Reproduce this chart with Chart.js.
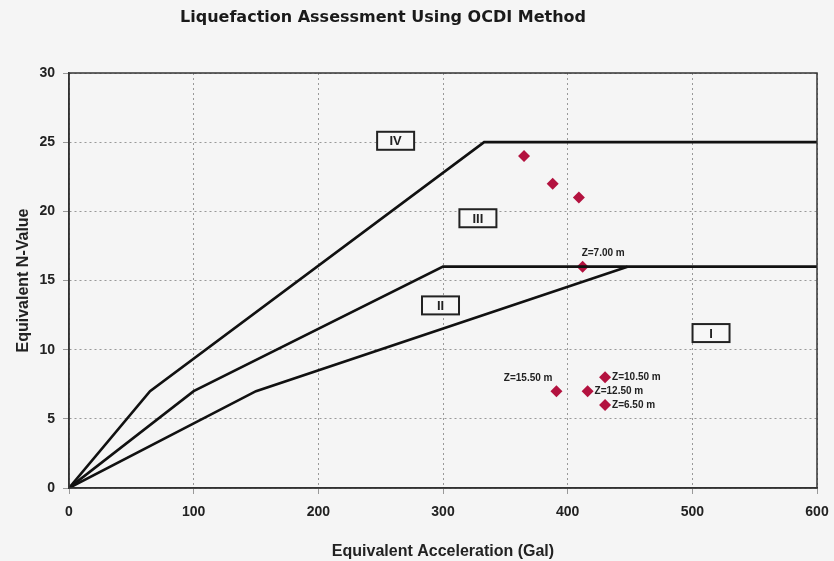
<!DOCTYPE html>
<html>
<head>
<meta charset="utf-8">
<script src="https://cdn.jsdelivr.net/npm/chart.js@4.4.0/dist/chart.umd.min.js"></script>
<style>
  html, body { margin: 0; padding: 0; background: #f5f5f5; }
  #wrap { width: 834px; height: 561px; position: relative; }
</style>
</head>
<body>
<div id="wrap"><canvas id="c" width="834" height="561"></canvas></div>
<script>
// ---- Data ----
const chartTitle = "Liquefaction Assessment Using OCDI Method";
const xAxisTitle = "Equivalent Acceleration (Gal)";
const yAxisTitle = "Equivalent N-Value";

// Zone boundary lines (acceleration, N-value)
const lineIV_x = [0, 65, 333, 600];
const lineIV_y = [0, 7, 25, 25];
const lineIII_x = [0, 100, 300, 600];
const lineIII_y = [0, 7, 16, 16];
const lineII_x = [0, 150, 448];
const lineII_y = [0, 7, 16];

// Measured points
const pointAcc = [365, 388, 409, 412, 391, 430, 416, 430];
const pointN   = [24, 22, 21, 16, 7, 8, 7, 6];
const pointLabels = ["", "", "", "Z=7.00 m", "Z=15.50 m", "Z=10.50 m", "Z=12.50 m", "Z=6.50 m"];
const pointLabelSide = ["", "", "", "above", "aboveLeft", "right", "right", "right"];

// Zone labels
const zoneNames = ["IV", "III", "II", "I"];
const zoneAcc = [262, 328, 298, 515];
const zoneN = [25.1, 19.5, 13.2, 11.2];

// Axis ticks
const xMin = 0, xMax = 600, xStep = 100;
const yMin = 0, yMax = 30, yStep = 5;

const toXY = (xs, ys) => xs.map((x, i) => ({ x: x, y: ys[i] }));

const lineStyle = {
  type: 'line', showLine: true, borderColor: '#111', borderWidth: 2.6,
  pointRadius: 0, fill: false, tension: 0
};

const overlay = {
  id: 'overlay',
  beforeDraw(chart) {
    const ctx = chart.ctx;
    ctx.save();
    ctx.fillStyle = '#f5f5f5';
    ctx.fillRect(0, 0, chart.width, chart.height);
    ctx.restore();
  },
  afterDatasetsDraw(chart) {
    const ctx = chart.ctx;
    const xs = chart.scales.x, ys = chart.scales.y;
    ctx.save();
    // zone boxes
    ctx.font = 'bold 13px "Liberation Sans", Arial, sans-serif';
    ctx.textAlign = 'center';
    ctx.textBaseline = 'middle';
    zoneNames.forEach((name, i) => {
      const cx = xs.getPixelForValue(zoneAcc[i]);
      const cy = ys.getPixelForValue(zoneN[i]);
      const w = 37, h = 18;
      ctx.fillStyle = '#f7f7f7';
      ctx.fillRect(cx - w / 2, cy - h / 2, w, h);
      ctx.lineWidth = 2;
      ctx.strokeStyle = '#222';
      ctx.strokeRect(cx - w / 2, cy - h / 2, w, h);
      ctx.fillStyle = '#222';
      ctx.fillText(name, cx, cy + 1);
    });
    // point labels
    ctx.font = 'bold 10px "Liberation Sans", Arial, sans-serif';
    ctx.fillStyle = '#222';
    ctx.textBaseline = 'middle';
    pointLabels.forEach((lab, i) => {
      if (!lab) return;
      const px = xs.getPixelForValue(pointAcc[i]);
      const py = ys.getPixelForValue(pointN[i]);
      const side = pointLabelSide[i];
      if (side === 'above') {
        ctx.textAlign = 'left';
        ctx.fillText(lab, px - 1, py - 13);
      } else if (side === 'aboveLeft') {
        ctx.textAlign = 'right';
        ctx.fillText(lab, px - 4, py - 13);
      } else {
        ctx.textAlign = 'left';
        ctx.fillText(lab, px + 7, py);
      }
    });
    ctx.restore();
  },
  afterDraw(chart) {
    const ctx = chart.ctx;
    ctx.save();
    ctx.font = 'bold 16px "DejaVu Sans", sans-serif';
    ctx.fillStyle = '#1a1a1a';
    ctx.textAlign = 'center';
    ctx.textBaseline = 'middle';
    ctx.fillText(chartTitle, 383, 18);
    ctx.restore();
  }
};

new Chart(document.getElementById('c'), {
  type: 'scatter',
  data: {
    datasets: [
      Object.assign({ label: 'IV/III', data: toXY(lineIV_x, lineIV_y) }, lineStyle),
      Object.assign({ label: 'III/II', data: toXY(lineIII_x, lineIII_y) }, lineStyle),
      Object.assign({ label: 'II/I', data: toXY(lineII_x, lineII_y) }, lineStyle),
      {
        type: 'scatter', label: 'Data', data: toXY(pointAcc, pointN),
        pointStyle: 'rectRot', pointRadius: 6, pointHoverRadius: 6,
        backgroundColor: '#b3123f', borderColor: '#b3123f', borderWidth: 0
      }
    ]
  },
  options: {
    responsive: false,
    animation: false,
    layout: { padding: { left: 0, right: 17, top: 73, bottom: 0 } },
    plugins: { legend: { display: false }, tooltip: { enabled: false }, title: { display: false } },
    scales: {
      x: {
        type: 'linear', min: xMin, max: xMax,
        ticks: { stepSize: xStep, color: '#222', padding: 10,
                 font: { family: '"Liberation Sans", Arial, sans-serif', size: 14, weight: 'bold' } },
        grid: { color: '#999', lineWidth: 1, tickLength: 6 },
        border: { display: true, color: '#333', width: 1.5, dash: [2, 3] },
        title: { display: true, text: xAxisTitle, color: '#222', padding: { top: 8, bottom: 0 },
                 font: { family: '"Liberation Sans", Arial, sans-serif', size: 16, weight: 'bold' } },
        afterFit(scale) { scale.height = 73; scale.paddingRight = 0; scale.paddingLeft = 0; }
      },
      y: {
        type: 'linear', min: yMin, max: yMax,
        ticks: { stepSize: yStep, color: '#222', padding: 8,
                 font: { family: '"Liberation Sans", Arial, sans-serif', size: 14, weight: 'bold' } },
        grid: { color: '#999', lineWidth: 1, tickLength: 6 },
        border: { display: true, color: '#333', width: 1.5, dash: [2, 3] },
        title: { display: true, text: yAxisTitle, color: '#222', padding: { top: 14, bottom: 0 },
                 font: { family: '"Liberation Sans", Arial, sans-serif', size: 16, weight: 'bold' } },
        afterFit(scale) { scale.width = 69; scale.paddingTop = 0; scale.paddingBottom = 0; }
      }
    }
  },
  plugins: [overlay, {
    id: 'frame',
    afterDraw(chart) {
      const a = chart.chartArea, ctx = chart.ctx;
      ctx.save();
      ctx.strokeStyle = '#333';
      ctx.lineWidth = 1.5;
      ctx.strokeRect(a.left, a.top, a.right - a.left, a.bottom - a.top);
      ctx.restore();
    }
  }]
});
</script>
</body>
</html>
